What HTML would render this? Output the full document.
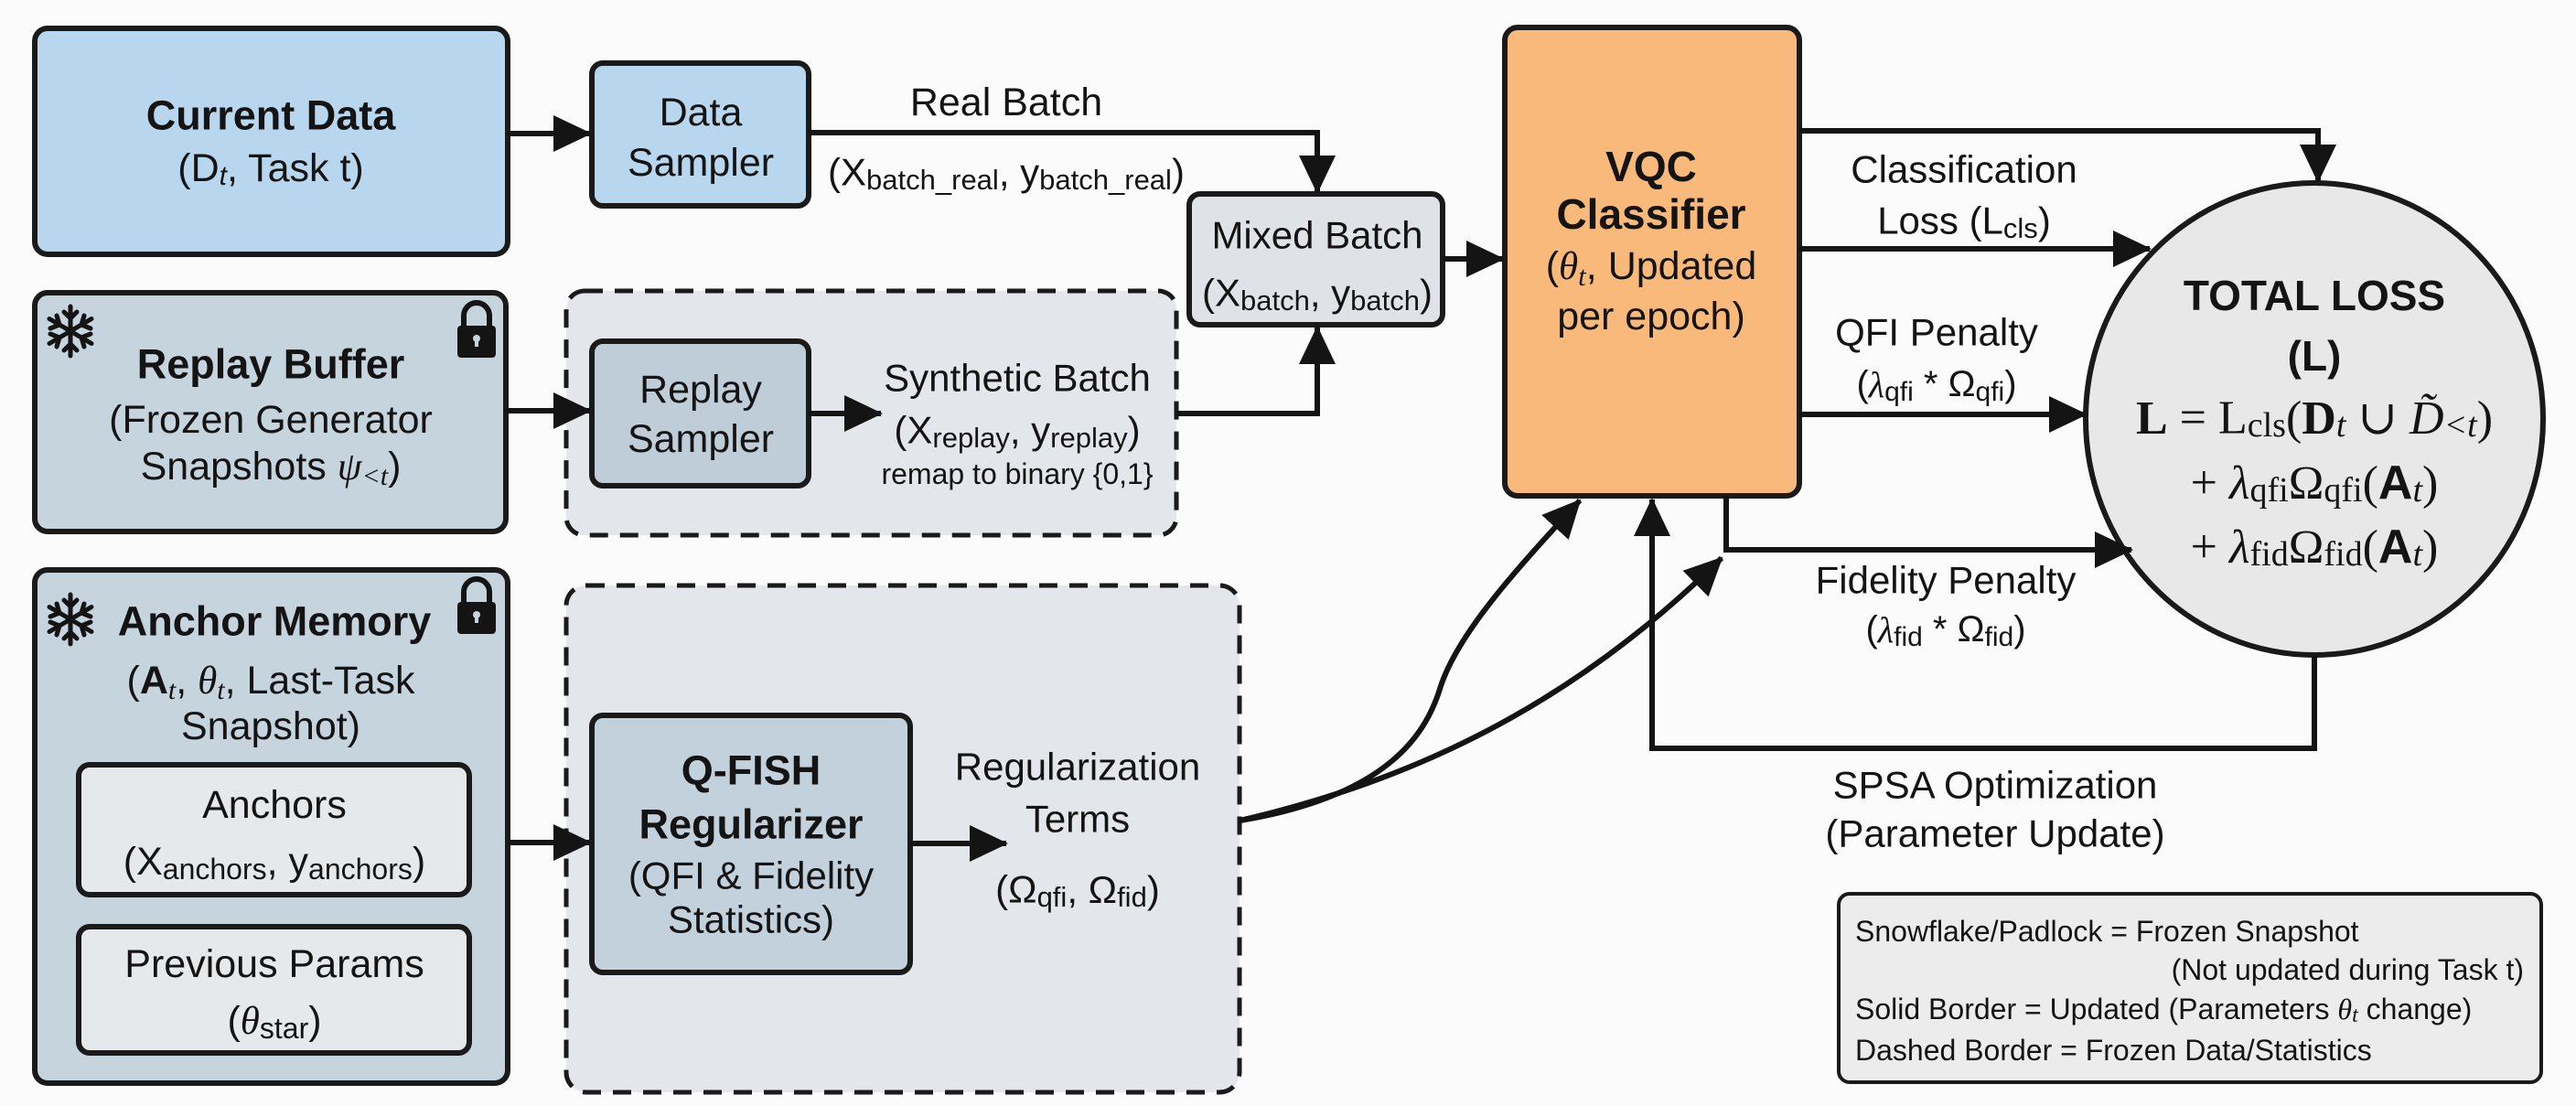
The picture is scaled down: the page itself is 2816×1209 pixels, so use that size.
<!DOCTYPE html>
<html><head><meta charset="utf-8"><style>
html,body{margin:0;padding:0;background:#fbfbfb;}
svg{display:block;}
text{font-family:"Liberation Sans",Arial,sans-serif;fill:#141414;}
.b{font-weight:bold;}
.m{font-family:"Liberation Serif","DejaVu Serif",serif;}
</style></head><body>
<svg width="2816" height="1209" viewBox="0 0 2816 1209" xmlns="http://www.w3.org/2000/svg">
<defs>
<marker id="ah" markerUnits="userSpaceOnUse" markerWidth="44" markerHeight="44" refX="40" refY="20" orient="auto">
<path d="M0,0 L42,20 L0,40 Z" fill="#141414"/>
</marker>
</defs>
<rect width="2816" height="1209" fill="#fbfbfb"/>

<!-- dashed containers -->
<rect x="619" y="318" width="667" height="267" rx="20" fill="#e3e6ea" stroke="#1a1a1a" stroke-width="5" stroke-dasharray="20,13"/>
<rect x="619" y="640" width="736" height="554" rx="22" fill="#e3e6ea" stroke="#1a1a1a" stroke-width="5" stroke-dasharray="20,13"/>

<!-- Current Data -->
<rect x="38" y="31" width="517" height="247" rx="14" fill="#b9d6ef" stroke="#1a1a1a" stroke-width="6"/>
<text x="296" y="126" text-anchor="middle" dominant-baseline="central" font-size="45" class="b">Current Data</text>
<text x="296" y="184" text-anchor="middle" dominant-baseline="central" font-size="43">(D<tspan font-size="30" dy="8" font-style="italic">t</tspan><tspan dy="-8">, Task t)</tspan></text>

<!-- Data Sampler -->
<rect x="647" y="69" width="237" height="156" rx="12" fill="#b9d6ef" stroke="#1a1a1a" stroke-width="6"/>
<text x="766" y="123" text-anchor="middle" dominant-baseline="central" font-size="43">Data</text>
<text x="766" y="178" text-anchor="middle" dominant-baseline="central" font-size="43">Sampler</text>

<!-- Replay Buffer -->
<rect x="38" y="320" width="515" height="261" rx="14" fill="#c6d4de" stroke="#1a1a1a" stroke-width="6"/>
<text x="296" y="398" text-anchor="middle" dominant-baseline="central" font-size="45" class="b">Replay Buffer</text>
<text x="296" y="459" text-anchor="middle" dominant-baseline="central" font-size="43">(Frozen Generator</text>
<text x="296" y="510" text-anchor="middle" dominant-baseline="central" font-size="43">Snapshots <tspan class="m" font-style="italic">ψ</tspan><tspan font-size="30" dy="10" class="m" font-style="italic">&lt;t</tspan><tspan dy="-10">)</tspan></text>

<!-- Replay Sampler -->
<rect x="647" y="373" width="237" height="158" rx="12" fill="#bfcdd8" stroke="#1a1a1a" stroke-width="6"/>
<text x="766" y="426" text-anchor="middle" dominant-baseline="central" font-size="43">Replay</text>
<text x="766" y="480" text-anchor="middle" dominant-baseline="central" font-size="43">Sampler</text>

<!-- Anchor Memory -->
<rect x="38" y="623" width="517" height="561" rx="14" fill="#c6d4de" stroke="#1a1a1a" stroke-width="6"/>
<text x="300" y="679" text-anchor="middle" dominant-baseline="central" font-size="45" class="b">Anchor Memory</text>
<text x="296" y="744" text-anchor="middle" dominant-baseline="central" font-size="43">(<tspan class="b">A</tspan><tspan font-size="30" dy="10" class="m" font-style="italic">t</tspan><tspan dy="-10">, </tspan><tspan class="m" font-style="italic">θ</tspan><tspan font-size="30" dy="10" class="m" font-style="italic">t</tspan><tspan dy="-10">, Last-Task</tspan></text>
<text x="296" y="794" text-anchor="middle" dominant-baseline="central" font-size="43">Snapshot)</text>
<rect x="86" y="836" width="427" height="142" rx="12" fill="#e6e9ec" stroke="#1a1a1a" stroke-width="6"/>
<text x="300" y="880" text-anchor="middle" dominant-baseline="central" font-size="43">Anchors</text>
<text x="300" y="942" text-anchor="middle" dominant-baseline="central" font-size="43">(X<tspan font-size="32" dy="8">anchors</tspan><tspan dy="-8">, y</tspan><tspan font-size="32" dy="8">anchors</tspan><tspan dy="-8">)</tspan></text>
<rect x="86" y="1013" width="427" height="138" rx="12" fill="#e6e9ec" stroke="#1a1a1a" stroke-width="6"/>
<text x="300" y="1054" text-anchor="middle" dominant-baseline="central" font-size="43">Previous Params</text>
<text x="300" y="1116" text-anchor="middle" dominant-baseline="central" font-size="43">(<tspan class="m" font-style="italic">θ</tspan><tspan font-size="32" dy="8">star</tspan><tspan dy="-8">)</tspan></text>

<!-- icons: snowflakes & locks -->
<g stroke="#141414" stroke-width="5" stroke-linecap="round" fill="none">
 <g transform="translate(77,362)">
  <path d="M0,-27 V27 M-23,-13.5 L23,13.5 M-23,13.5 L23,-13.5"/>
  <path d="M-7,-21 L0,-14 L7,-21 M-7,21 L0,14 L7,21 M-22,-3 L-12,-7 L-15,-17 M22,3 L12,7 L15,17 M-22,3 L-12,7 L-15,17 M22,-3 L12,-7 L15,-17"/>
 </g>
 <g transform="translate(77,677)">
  <path d="M0,-27 V27 M-23,-13.5 L23,13.5 M-23,13.5 L23,-13.5"/>
  <path d="M-7,-21 L0,-14 L7,-21 M-7,21 L0,14 L7,21 M-22,-3 L-12,-7 L-15,-17 M22,3 L12,7 L15,17 M-22,3 L-12,7 L-15,17 M22,-3 L12,-7 L15,-17"/>
 </g>
</g>
<g fill="#141414">
 <path d="M507,358 V345 a14,14 0 0 1 28,0 V358" fill="none" stroke="#141414" stroke-width="6"/>
 <rect x="500" y="356" width="42" height="35" rx="4"/>
 <circle cx="521" cy="370" r="4" fill="#c6d4de"/><rect x="519" y="370" width="4" height="9" fill="#c6d4de"/>
 <path d="M507,660 V647 a14,14 0 0 1 28,0 V660" fill="none" stroke="#141414" stroke-width="6"/>
 <rect x="500" y="658" width="42" height="35" rx="4"/>
 <circle cx="521" cy="672" r="4" fill="#c6d4de"/><rect x="519" y="672" width="4" height="9" fill="#c6d4de"/>
</g>

<!-- Q-FISH -->
<rect x="647" y="782" width="348" height="281" rx="12" fill="#c3d1dc" stroke="#1a1a1a" stroke-width="6"/>
<text x="821" y="842" text-anchor="middle" dominant-baseline="central" font-size="45" class="b">Q-FISH</text>
<text x="821" y="901" text-anchor="middle" dominant-baseline="central" font-size="45" class="b">Regularizer</text>
<text x="821" y="957" text-anchor="middle" dominant-baseline="central" font-size="42">(QFI &amp; Fidelity</text>
<text x="821" y="1005" text-anchor="middle" dominant-baseline="central" font-size="42">Statistics)</text>

<!-- Mixed batch -->
<rect x="1300" y="212" width="277" height="143" rx="12" fill="#dfe3e8" stroke="#1a1a1a" stroke-width="6"/>
<text x="1440" y="257" text-anchor="middle" dominant-baseline="central" font-size="42">Mixed Batch</text>
<text x="1440" y="320" text-anchor="middle" dominant-baseline="central" font-size="42">(X<tspan font-size="31" dy="8">batch</tspan><tspan dy="-8">, y</tspan><tspan font-size="31" dy="8">batch</tspan><tspan dy="-8">)</tspan></text>

<!-- VQC -->
<rect x="1645" y="30" width="322" height="512" rx="14" fill="#f8b97b" stroke="#1a1a1a" stroke-width="6"/>
<text x="1805" y="182" text-anchor="middle" dominant-baseline="central" font-size="46" class="b">VQC</text>
<text x="1805" y="234" text-anchor="middle" dominant-baseline="central" font-size="46" class="b">Classifier</text>
<text x="1805" y="291" text-anchor="middle" dominant-baseline="central" font-size="43">(<tspan class="m" font-style="italic">θ</tspan><tspan font-size="31" dy="10" class="m" font-style="italic">t</tspan><tspan dy="-10">, Updated</tspan></text>
<text x="1805" y="346" text-anchor="middle" dominant-baseline="central" font-size="43">per epoch)</text>

<!-- Total loss circle -->
<ellipse cx="2530" cy="458" rx="250" ry="258" fill="#e8e8e8" stroke="#1a1a1a" stroke-width="6"/>
<text x="2530" y="323" text-anchor="middle" dominant-baseline="central" font-size="46" class="b">TOTAL LOSS</text>
<text x="2530" y="389" text-anchor="middle" dominant-baseline="central" font-size="46" class="b">(L)</text>
<text x="2530" y="457" text-anchor="middle" dominant-baseline="central" font-size="52" class="m"><tspan font-weight="bold">L</tspan> = L<tspan font-size="38" dy="8">cls</tspan><tspan dy="-8">(</tspan><tspan font-weight="bold">D</tspan><tspan font-size="38" dy="8" font-style="italic">t</tspan><tspan dy="-8"> ∪ </tspan><tspan font-style="italic">D̃</tspan><tspan font-size="38" dy="8" font-style="italic">&lt;t</tspan><tspan dy="-8">)</tspan></text>
<text x="2530" y="528" text-anchor="middle" dominant-baseline="central" font-size="52" class="m">+ <tspan font-style="italic">λ</tspan><tspan font-size="38" dy="8">qfi</tspan><tspan dy="-8">Ω</tspan><tspan font-size="38" dy="8">qfi</tspan><tspan dy="-8">(</tspan><tspan font-family="Liberation Sans" font-weight="bold">A</tspan><tspan font-size="38" dy="8" font-style="italic">t</tspan><tspan dy="-8">)</tspan></text>
<text x="2530" y="598" text-anchor="middle" dominant-baseline="central" font-size="52" class="m">+ <tspan font-style="italic">λ</tspan><tspan font-size="38" dy="8">fid</tspan><tspan dy="-8">Ω</tspan><tspan font-size="38" dy="8">fid</tspan><tspan dy="-8">(</tspan><tspan font-family="Liberation Sans" font-weight="bold">A</tspan><tspan font-size="38" dy="8" font-style="italic">t</tspan><tspan dy="-8">)</tspan></text>

<!-- connectors -->
<g stroke="#141414" stroke-width="6" fill="none">
 <line x1="555" y1="146" x2="645" y2="146" marker-end="url(#ah)"/>
 <polyline points="884,145 1440,145 1440,210" marker-end="url(#ah)"/>
 <line x1="553" y1="449" x2="645" y2="449" marker-end="url(#ah)"/>
 <line x1="884" y1="452" x2="963" y2="452" marker-end="url(#ah)"/>
 <polyline points="1286,452 1440,452 1440,358" marker-end="url(#ah)"/>
 <line x1="1577" y1="283" x2="1643" y2="283" marker-end="url(#ah)"/>
 <line x1="555" y1="921" x2="645" y2="921" marker-end="url(#ah)"/>
 <line x1="995" y1="922" x2="1100" y2="922" marker-end="url(#ah)"/>
 <path d="M1355,897 C1520,870 1560,800 1575,750 C1595,690 1660,620 1727,547" marker-end="url(#ah)"/>
 <path d="M1355,897 C1560,850 1730,760 1882,610" marker-end="url(#ah)"/>
 <polyline points="1967,143 2534,143 2534,198" marker-end="url(#ah)"/>
 <line x1="1967" y1="272" x2="2350" y2="272" marker-end="url(#ah)"/>
 <line x1="1967" y1="453" x2="2280" y2="453" marker-end="url(#ah)"/>
 <polyline points="1887,542 1887,601 2330,601" marker-end="url(#ah)"/>
 <polyline points="2530,716 2530,818 1806,818 1806,546" marker-end="url(#ah)"/>
</g>

<!-- labels -->
<text x="1100" y="112" text-anchor="middle" dominant-baseline="central" font-size="43">Real Batch</text>
<text x="1100" y="188" text-anchor="middle" dominant-baseline="central" font-size="42">(X<tspan font-size="31" dy="8">batch_real</tspan><tspan dy="-8">, y</tspan><tspan font-size="31" dy="8">batch_real</tspan><tspan dy="-8">)</tspan></text>
<text x="1112" y="413" text-anchor="middle" dominant-baseline="central" font-size="42">Synthetic Batch</text>
<text x="1112" y="470" text-anchor="middle" dominant-baseline="central" font-size="42">(X<tspan font-size="31" dy="8">replay</tspan><tspan dy="-8">, y</tspan><tspan font-size="31" dy="8">replay</tspan><tspan dy="-8">)</tspan></text>
<text x="1112" y="518" text-anchor="middle" dominant-baseline="central" font-size="32">remap to binary {0,1}</text>
<text x="1178" y="838" text-anchor="middle" dominant-baseline="central" font-size="42">Regularization</text>
<text x="1178" y="895" text-anchor="middle" dominant-baseline="central" font-size="42">Terms</text>
<text x="1178" y="972" text-anchor="middle" dominant-baseline="central" font-size="42">(Ω<tspan font-size="31" dy="8">qfi</tspan><tspan dy="-8">, Ω</tspan><tspan font-size="31" dy="8">fid</tspan><tspan dy="-8">)</tspan></text>
<text x="2147" y="185" text-anchor="middle" dominant-baseline="central" font-size="42">Classification</text>
<text x="2147" y="241" text-anchor="middle" dominant-baseline="central" font-size="42">Loss (L<tspan font-size="31" dy="8">cls</tspan><tspan dy="-8">)</tspan></text>
<text x="2117" y="363" text-anchor="middle" dominant-baseline="central" font-size="42">QFI Penalty</text>
<text x="2117" y="420" text-anchor="middle" dominant-baseline="central" font-size="40">(<tspan class="m" font-style="italic">λ</tspan><tspan font-size="30" dy="8">qfi</tspan><tspan dy="-8"> * Ω</tspan><tspan font-size="30" dy="8">qfi</tspan><tspan dy="-8">)</tspan></text>
<text x="2127" y="634" text-anchor="middle" dominant-baseline="central" font-size="42">Fidelity Penalty</text>
<text x="2127" y="688" text-anchor="middle" dominant-baseline="central" font-size="40">(<tspan class="m" font-style="italic">λ</tspan><tspan font-size="30" dy="8">fid</tspan><tspan dy="-8"> * Ω</tspan><tspan font-size="30" dy="8">fid</tspan><tspan dy="-8">)</tspan></text>
<text x="2181" y="858" text-anchor="middle" dominant-baseline="central" font-size="42">SPSA Optimization</text>
<text x="2181" y="911" text-anchor="middle" dominant-baseline="central" font-size="42">(Parameter Update)</text>

<!-- legend -->
<rect x="2010" y="977" width="768" height="206" rx="12" fill="#ececec" stroke="#1a1a1a" stroke-width="4"/>
<text x="2028" y="1018" dominant-baseline="central" font-size="32">Snowflake/Padlock = Frozen Snapshot</text>
<text x="2759" y="1060" text-anchor="end" dominant-baseline="central" font-size="32">(Not updated during Task t)</text>
<text x="2028" y="1103" dominant-baseline="central" font-size="32">Solid Border = Updated (Parameters <tspan class="m" font-style="italic">θ</tspan><tspan font-size="24" dy="7" class="m" font-style="italic">t</tspan><tspan dy="-7"> change)</tspan></text>
<text x="2028" y="1148" dominant-baseline="central" font-size="32">Dashed Border = Frozen Data/Statistics</text>
</svg>
</body></html>
